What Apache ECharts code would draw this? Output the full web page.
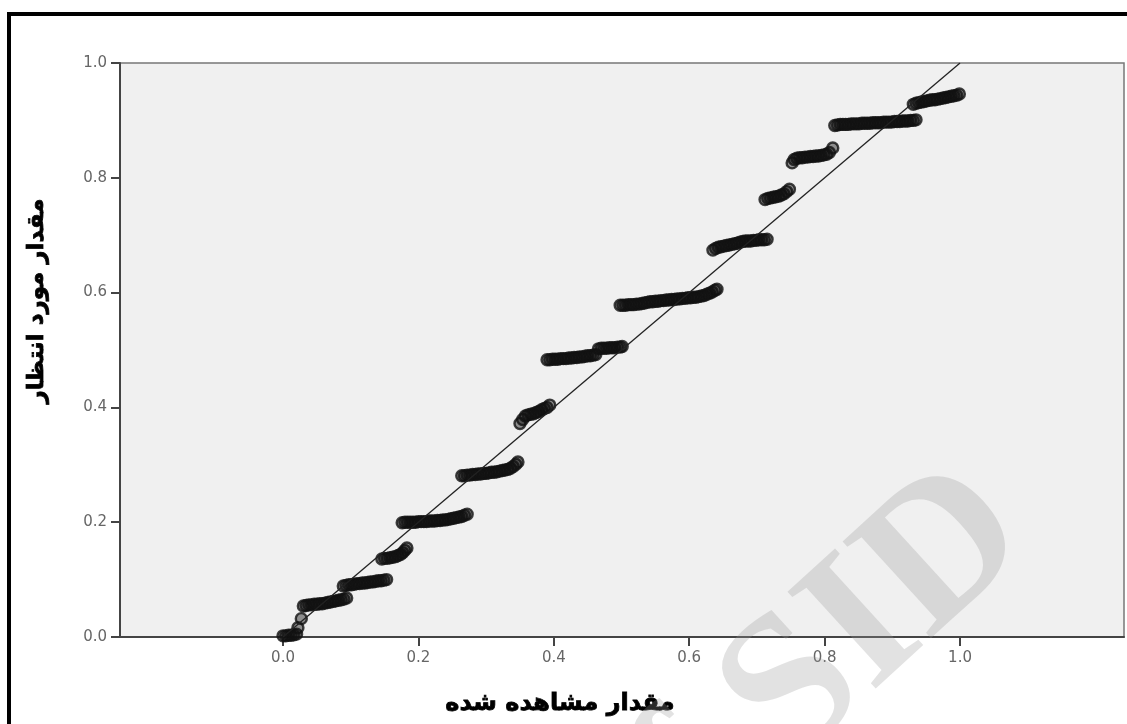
<!DOCTYPE html>
<html>
<head>
<meta charset="utf-8">
<script src="https://cdn.jsdelivr.net/npm/echarts@6/dist/echarts.min.js"></script>
<style>
html,body{margin:0;padding:0;background:#fff;}
#chart{width:1127px;height:724px;}
</style>
</head>
<body>
<div id="chart"></div>
<script>
// Axis titles and tick labels
const xTitle = 'مقدار مشاهده شده';
const yTitle = 'مقدار مورد انتظار';
const tickValues = [0, 0.2, 0.4, 0.6, 0.8, 1.0];
const watermarkText = 'Archive of SID';

// P-P plot points: [observed cumulative prob, expected cumulative prob], grouped by step
const step1 = [[0.000,0.002],[0.004,0.002],[0.008,0.003],[0.012,0.003],[0.016,0.004],[0.020,0.005],[0.022,0.016],[0.027,0.032]];
const step2 = [[0.030,0.054],[0.034,0.055],[0.038,0.056],[0.042,0.056],[0.046,0.057],[0.050,0.057],[0.054,0.058],[0.058,0.058],[0.062,0.059],[0.066,0.060],[0.070,0.061],[0.074,0.062],[0.078,0.063],[0.082,0.064],[0.086,0.065],[0.090,0.066],[0.094,0.068]];
const step3 = [[0.089,0.089],[0.093,0.090],[0.097,0.091],[0.101,0.091],[0.105,0.092],[0.109,0.093],[0.113,0.093],[0.117,0.094],[0.121,0.094],[0.125,0.095],[0.129,0.096],[0.133,0.096],[0.137,0.097],[0.141,0.098],[0.145,0.098],[0.149,0.099],[0.153,0.100]];
const step4 = [[0.146,0.136],[0.150,0.137],[0.154,0.137],[0.158,0.138],[0.162,0.139],[0.166,0.140],[0.170,0.142],[0.174,0.144],[0.177,0.147],[0.180,0.151],[0.183,0.155]];
const step5 = [[0.176,0.199],[0.180,0.200],[0.184,0.200],[0.188,0.200],[0.192,0.200],[0.196,0.200],[0.200,0.201],[0.204,0.201],[0.208,0.201],[0.212,0.201],[0.216,0.202],[0.220,0.202],[0.224,0.202],[0.228,0.203],[0.232,0.203],[0.236,0.204],[0.240,0.204],[0.244,0.205],[0.248,0.206],[0.252,0.207],[0.256,0.208],[0.260,0.209],[0.264,0.210],[0.268,0.212],[0.272,0.214]];
const step6 = [[0.264,0.281],[0.268,0.281],[0.272,0.282],[0.276,0.282],[0.280,0.283],[0.284,0.283],[0.288,0.284],[0.292,0.284],[0.296,0.285],[0.300,0.285],[0.304,0.286],[0.308,0.287],[0.312,0.287],[0.316,0.288],[0.320,0.289],[0.324,0.290],[0.328,0.291],[0.332,0.292],[0.336,0.294],[0.340,0.297],[0.344,0.301],[0.347,0.305]];
const step7 = [[0.350,0.372],[0.354,0.379],[0.358,0.385],[0.362,0.387],[0.366,0.388],[0.370,0.389],[0.374,0.391],[0.378,0.393],[0.382,0.396],[0.386,0.398],[0.390,0.400],[0.394,0.404]];
const step8 = [[0.390,0.483],[0.394,0.483],[0.398,0.484],[0.402,0.484],[0.406,0.484],[0.410,0.485],[0.414,0.485],[0.418,0.485],[0.422,0.486],[0.426,0.486],[0.430,0.487],[0.434,0.487],[0.438,0.488],[0.442,0.488],[0.446,0.489],[0.450,0.490],[0.454,0.490],[0.458,0.491],[0.462,0.492],[0.466,0.502],[0.470,0.503],[0.474,0.503],[0.478,0.503],[0.482,0.504],[0.486,0.504],[0.490,0.504],[0.494,0.505],[0.498,0.505],[0.501,0.506]];
const step9 = [[0.498,0.578],[0.502,0.578],[0.506,0.578],[0.510,0.579],[0.514,0.579],[0.518,0.579],[0.522,0.580],[0.526,0.580],[0.530,0.581],[0.534,0.582],[0.538,0.583],[0.542,0.584],[0.546,0.584],[0.550,0.585],[0.554,0.585],[0.558,0.586],[0.562,0.586],[0.566,0.587],[0.570,0.587],[0.574,0.588],[0.578,0.588],[0.582,0.589],[0.586,0.589],[0.590,0.590],[0.594,0.590],[0.598,0.591],[0.602,0.591],[0.606,0.592],[0.610,0.592],[0.614,0.593],[0.618,0.594],[0.622,0.595],[0.626,0.597],[0.630,0.599],[0.634,0.601],[0.638,0.604],[0.641,0.606]];
const step10 = [[0.635,0.674],[0.639,0.677],[0.643,0.679],[0.647,0.680],[0.651,0.681],[0.655,0.682],[0.659,0.683],[0.663,0.684],[0.667,0.685],[0.671,0.686],[0.675,0.688],[0.679,0.689],[0.683,0.690],[0.687,0.690],[0.691,0.690],[0.695,0.691],[0.699,0.691],[0.703,0.692],[0.707,0.692],[0.711,0.692],[0.715,0.693]];
const step11 = [[0.712,0.762],[0.716,0.764],[0.720,0.765],[0.724,0.766],[0.728,0.767],[0.732,0.768],[0.736,0.770],[0.740,0.772],[0.744,0.776],[0.748,0.780]];
const step12 = [[0.752,0.826],[0.755,0.832],[0.759,0.834],[0.763,0.835],[0.767,0.835],[0.771,0.836],[0.775,0.836],[0.779,0.837],[0.783,0.837],[0.787,0.838],[0.791,0.838],[0.795,0.839],[0.799,0.840],[0.803,0.841],[0.807,0.844],[0.812,0.852]];
const step13 = [[0.815,0.891],[0.819,0.892],[0.823,0.893],[0.827,0.893],[0.831,0.893],[0.835,0.893],[0.839,0.894],[0.843,0.894],[0.847,0.894],[0.851,0.894],[0.855,0.895],[0.859,0.895],[0.863,0.895],[0.867,0.895],[0.871,0.896],[0.875,0.896],[0.879,0.896],[0.883,0.896],[0.887,0.897],[0.891,0.897],[0.895,0.897],[0.899,0.897],[0.903,0.898],[0.907,0.898],[0.911,0.898],[0.915,0.899],[0.919,0.899],[0.923,0.899],[0.927,0.900],[0.931,0.900],[0.935,0.901]];
const step14 = [[0.931,0.928],[0.935,0.930],[0.939,0.931],[0.943,0.932],[0.947,0.933],[0.951,0.934],[0.955,0.935],[0.959,0.936],[0.963,0.936],[0.967,0.937],[0.971,0.938],[0.975,0.939],[0.979,0.940],[0.983,0.941],[0.987,0.942],[0.991,0.943],[0.995,0.944],[0.999,0.946]];
const referenceLine = [[0, 0], [1, 1]];

const points = [].concat(step1, step2, step3, step4, step5, step6, step7, step8, step9, step10, step11, step12, step13, step14);

const chart = echarts.init(document.getElementById('chart'), null, {renderer: 'canvas'});
const labelFont = {color: '#666', fontSize: 15, fontFamily: 'DejaVu Sans'};

chart.setOption({
  animation: false,
  backgroundColor: '#fff',
  grid: {
    left: 120, top: 63, right: 3, bottom: 87,
    show: true, backgroundColor: '#f0f0f0', borderColor: '#777', borderWidth: 1.5
  },
  xAxis: {
    type: 'value', min: -0.2408, max: 1.2422,
    splitLine: {show: false},
    axisLine: {show: true, onZero: false, lineStyle: {color: '#444', width: 2}},
    axisTick: {show: true, customValues: tickValues, length: 9, lineStyle: {color: '#444', width: 2}},
    axisLabel: Object.assign({customValues: tickValues, margin: 14, formatter: v => v.toFixed(1)}, labelFont)
  },
  yAxis: {
    type: 'value', min: 0, max: 1,
    splitLine: {show: false},
    axisLine: {show: true, onZero: false, lineStyle: {color: '#444', width: 2}},
    axisTick: {show: true, customValues: tickValues, length: 9, lineStyle: {color: '#444', width: 2}},
    axisLabel: Object.assign({customValues: tickValues, margin: 13, formatter: v => v.toFixed(1)}, labelFont)
  },
  series: [
    {
      type: 'scatter', data: points, symbol: 'circle', symbolSize: 11,
      itemStyle: {color: 'rgba(15,15,15,0.55)', borderColor: '#111', borderWidth: 2.4},
      z: 2
    },
    {
      type: 'line', data: referenceLine, showSymbol: false, symbol: 'none',
      lineStyle: {color: '#222', width: 1.3}, z: 3
    }
  ],
  graphic: [
    {
      type: 'text', x: 560, y: 704, z: 10,
      style: {text: xTitle, font: 'bold 24px "DejaVu Sans"', fill: '#000', align: 'center', verticalAlign: 'middle', stroke: '#000', lineWidth: 0.8}
    },
    {
      type: 'text', x: 37, y: 301, rotation: Math.PI / 2, z: 10,
      style: {text: yTitle, font: 'bold 23px "DejaVu Sans"', fill: '#000', align: 'center', verticalAlign: 'middle', stroke: '#000', lineWidth: 0.8}
    },
    {
      type: 'text', x: 1000, y: 505, rotation: 0.74, z: 50, silent: true,
      style: {text: watermarkText, font: 'bold 200px "Liberation Serif"', fill: 'rgba(150,150,150,0.28)', align: 'right', verticalAlign: 'middle'}
    },
    {
      type: 'rect', z: 60, silent: true,
      shape: {x: 9, y: 14, width: 1200, height: 800},
      style: {fill: 'none', stroke: '#000', lineWidth: 4}
    }
  ]
});
</script>
</body>
</html>
